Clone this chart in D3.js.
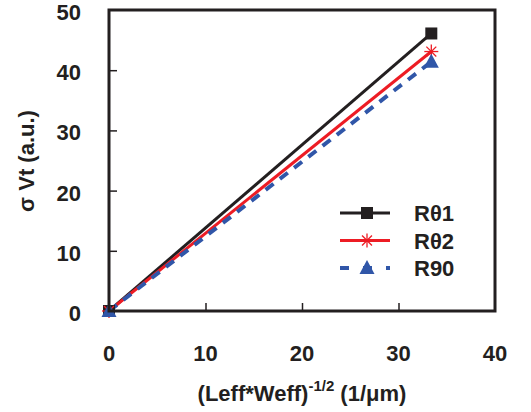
<!DOCTYPE html>
<html>
<head>
<meta charset="utf-8">
<script src="https://cdnjs.cloudflare.com/ajax/libs/d3/7.8.5/d3.min.js"></script>
<style>
body { margin: 0; background: #fff; }
text { font-family: Arial, "Liberation Sans", sans-serif; font-weight: bold; fill: #231f20; }
</style>
</head>
<body>
<div id="chart"></div>
<script>
// data
let xVals = [0, 33.4];
let r01 = [0, 46.1];
let r02 = [0, 43.1];
let r90 = [0, 41.4];
let seriesNames = ["R\u03b81", "R\u03b82", "R90"];
let xTicks = [0, 10, 20, 30, 40];
let yTicks = [0, 10, 20, 30, 40, 50];

let W = 531, H = 412;
let mLeft = 109, mRight = 495, mTop = 10, mBottom = 311;

let svg = d3.select("#chart").append("svg")
    .attr("width", W).attr("height", H);

let x = d3.scaleLinear().domain([0, 40]).range([mLeft, mRight]);
let y = d3.scaleLinear().domain([0, 50]).range([mBottom, mTop]);

let series = [
    {name: seriesNames[0], vals: r01, color: "#231f20", dash: null, marker: "square", w: 3},
    {name: seriesNames[1], vals: r02, color: "#ed1c24", dash: null, marker: "star", w: 3},
    {name: seriesNames[2], vals: r90, color: "#3056a8", dash: "10,8", marker: "triangle", w: 4}
];

// inner ticks
svg.append("g")
    .attr("transform", "translate(0," + mBottom + ")")
    .call(d3.axisTop(x).tickValues(xTicks.slice(1, -1)).tickSize(8).tickFormat(""))
    .call(g => g.select(".domain").remove())
    .selectAll("line").attr("stroke", "#231f20").attr("stroke-width", 1.5);

svg.append("g")
    .attr("transform", "translate(" + mLeft + ",0)")
    .call(d3.axisRight(y).tickValues(yTicks.slice(1, -1)).tickSize(8).tickFormat(""))
    .call(g => g.select(".domain").remove())
    .selectAll("line").attr("stroke", "#231f20").attr("stroke-width", 1.5);

// tick labels
svg.append("g").selectAll("text")
    .data(xTicks).enter().append("text")
    .attr("x", d => x(d))
    .attr("y", mBottom + 50)
    .attr("text-anchor", "middle")
    .attr("font-size", "22px")
    .text(d => d);

svg.append("g").selectAll("text")
    .data(yTicks).enter().append("text")
    .attr("x", mLeft - 28)
    .attr("y", d => y(d) + 10)
    .attr("text-anchor", "end")
    .attr("font-size", "22px")
    .text(d => d);

// lines
let line = d3.line().x((d, i) => x(xVals[i])).y(d => y(d));

series.forEach(s => {
    svg.append("path")
        .datum(s.vals)
        .attr("d", line)
        .attr("fill", "none")
        .attr("stroke", s.color)
        .attr("stroke-width", s.w)
        .attr("stroke-dasharray", s.dash);
});

function drawMarker(g, type, cx, cy, color) {
    if (type === "square") {
        g.append("rect").attr("x", cx - 6).attr("y", cy - 6)
            .attr("width", 12).attr("height", 12).attr("fill", color);
    } else if (type === "star") {
        let r = 7;
        [0, 45, 90, 135].forEach(a => {
            let rad = a * Math.PI / 180;
            g.append("line")
                .attr("x1", cx - r * Math.cos(rad)).attr("y1", cy - r * Math.sin(rad))
                .attr("x2", cx + r * Math.cos(rad)).attr("y2", cy + r * Math.sin(rad))
                .attr("stroke", color).attr("stroke-width", 1.3);
        });
    } else {
        g.append("path")
            .attr("d", "M" + cx + "," + (cy - 8) + "L" + (cx + 7.5) + "," + (cy + 6) + "L" + (cx - 7.5) + "," + (cy + 6) + "Z")
            .attr("fill", color);
    }
}

let markers = svg.append("g");
series.forEach(s => {
    s.vals.forEach((v, i) => drawMarker(markers, s.marker, x(xVals[i]), y(v), s.color));
});

// frame
svg.append("rect")
    .attr("x", mLeft).attr("y", mTop)
    .attr("width", mRight - mLeft).attr("height", mBottom - mTop)
    .attr("fill", "none").attr("stroke", "#231f20").attr("stroke-width", 3);

// legend
let legend = svg.append("g");
series.forEach((s, i) => {
    let ly = 213 + i * 27.5;
    legend.append("line")
        .attr("x1", 340).attr("x2", 390).attr("y1", ly).attr("y2", ly)
        .attr("stroke", s.color).attr("stroke-width", s.w)
        .attr("stroke-dasharray", s.dash ? "9,14" : null);
    drawMarker(legend, s.marker, 367, ly, s.color);
    legend.append("text")
        .attr("x", 414).attr("y", ly + 8)
        .attr("font-size", "22px")
        .text(s.name);
});

// axis titles
let xt = svg.append("text")
    .attr("x", 302).attr("y", 401)
    .attr("text-anchor", "middle")
    .attr("font-size", "22px");
xt.append("tspan").text("(Leff*Weff)");
xt.append("tspan").attr("dy", -10).attr("font-size", "15px").text("-1/2");
xt.append("tspan").attr("dy", 10).text(" (1/\u03bcm)");

svg.append("text")
    .attr("transform", "translate(34," + 161 + ") rotate(-90)")
    .attr("text-anchor", "middle")
    .attr("font-size", "22px")
    .text("\u03c3 Vt (a.u.)");
</script>
</body>
</html>
